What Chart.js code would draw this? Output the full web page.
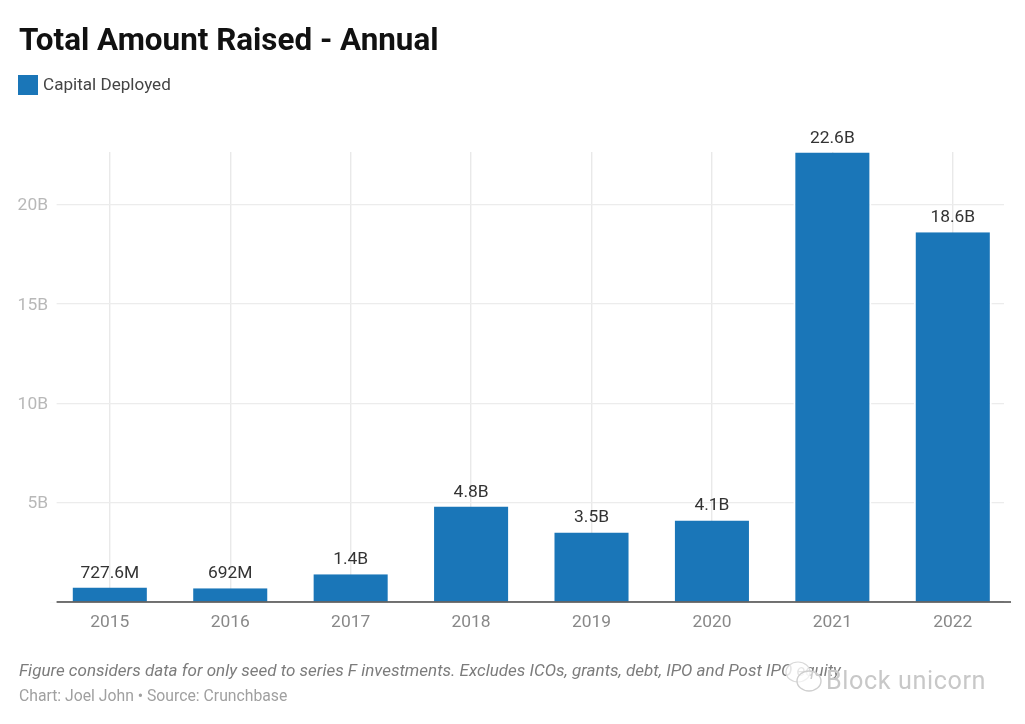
<!DOCTYPE html>
<html>
<head>
<meta charset="utf-8">
<script src="https://cdn.jsdelivr.net/npm/chart.js@4/dist/chart.umd.min.js"></script>
<style>
  html, body { margin: 0; padding: 0; background: #fff; }
  body { position: relative; width: 1025px; height: 724px; overflow: hidden; font-family: Roboto, sans-serif; }
  canvas { position: absolute; left: 0; top: 0; }
  .txt { position: absolute; white-space: nowrap; }
  #title { left: 19px; top: 21px; font-size: 31.4px; line-height: 38px; font-weight: 700; color: #111; }
  #swatch { position: absolute; left: 18px; top: 75px; width: 20px; height: 20px; background: #1a76b8; }
  #legend { left: 43px; top: 74px; font-size: 17.1px; line-height: 21px; color: #444; }
  #note { left: 19px; top: 660px; font-size: 17.03px; line-height: 21px; font-style: italic; color: #7c7c7c; }
  #source { left: 19px; top: 687px; font-size: 15.75px; line-height: 18px; color: #a0a0a0; }
  #mark { left: 826px; top: 666px; font-size: 25.2px; line-height: 30px; color: #c8c8c8; letter-spacing: 0.6px;
    text-shadow: 0 0 1px #fff; }
  #markIcon { position: absolute; left: 784px; top: 660px; }
</style>
</head>
<body>
<canvas id="chart" width="1025" height="724"></canvas>
<div class="txt" id="title">Total Amount Raised - Annual</div>
<div id="swatch"></div>
<div class="txt" id="legend"></div>
<div class="txt" id="note">Figure considers data for only seed to series F investments. Excludes ICOs, grants, debt, IPO and Post IPO equity</div>
<div class="txt" id="source">Chart: Joel John • Source: Crunchbase</div>
<svg id="markIcon" width="42" height="36" viewBox="0 0 42 36">
  <ellipse cx="14" cy="12" rx="12" ry="10" fill="#fff" fill-opacity="0.8" stroke="#dadada" stroke-width="1.2"/>
  <ellipse cx="25" cy="21" rx="12" ry="10" fill="#fff" fill-opacity="0.6" stroke="#cfcfcf" stroke-width="1.4"/>
</svg>
<div class="txt" id="mark">Block unicorn</div>

<script>
const seriesName = 'Capital Deployed';
const years = ['2015', '2016', '2017', '2018', '2019', '2020', '2021', '2022'];
const capital = [0.7276, 0.692, 1.4, 4.8, 3.5, 4.1, 22.6, 18.6];
const valueLabels = ['727.6M', '692M', '1.4B', '4.8B', '3.5B', '4.1B', '22.6B', '18.6B'];
const yTicks = [0, 5, 10, 15, 20];

const BAR_BLUE = '#1a76b8';

document.getElementById('legend').textContent = seriesName;

// grid runs a bit short of the plot edges, baseline sits on top of the bars
const framePlugin = {
  id: 'frame',
  beforeDatasetsDraw(chart) {
    const { ctx, chartArea, scales } = chart;
    ctx.save();
    ctx.fillStyle = '#fff';
    ctx.fillRect(chartArea.left, chartArea.top - 1, 7, chartArea.height + 1);
    ctx.fillRect(chartArea.right - 9, chartArea.top - 1, 9, chartArea.height + 1);

    // y labels sit slightly under their gridline in the original
    ctx.fillStyle = '#b8b8b8';
    ctx.font = '17.4px Roboto';
    ctx.textAlign = 'right';
    ctx.textBaseline = 'middle';
    scales.y.ticks.forEach(t => {
      if (t.value !== 0) ctx.fillText(t.value + 'B', 48, scales.y.getPixelForValue(t.value) + 1.5);
    });
    ctx.restore();
  },
  afterDatasetsDraw(chart) {
    const { ctx, chartArea, scales } = chart;
    const y0 = scales.y.getPixelForValue(0);
    ctx.save();
    ctx.strokeStyle = 'rgba(40, 40, 40, 0.85)';
    ctx.lineWidth = 1.6;
    ctx.beginPath();
    ctx.moveTo(chartArea.left + 7, y0);
    ctx.lineTo(chartArea.right - 2, y0);
    ctx.stroke();

    // value labels over each bar
    ctx.fillStyle = '#333';
    ctx.font = '17.4px Roboto';
    ctx.textAlign = 'center';
    ctx.textBaseline = 'alphabetic';
    chart.getDatasetMeta(0).data.forEach((bar, i) => {
      ctx.fillText(valueLabels[i], bar.x, bar.y - 10);
    });
    ctx.restore();
  }
};

new Chart(document.getElementById('chart'), {
  type: 'bar',
  plugins: [framePlugin],
  data: {
    labels: years,
    datasets: [{
      label: seriesName,
      data: capital,
      backgroundColor: BAR_BLUE,
      borderColor: '#fff',
      borderWidth: { left: 2, right: 2, top: 0, bottom: 0 },
      barPercentage: 0.648,
      categoryPercentage: 1
    }]
  },
  options: {
    responsive: false,
    animation: false,
    devicePixelRatio: 1,
    layout: { padding: { top: 152, right: 12, left: 0, bottom: 0 } },
    plugins: { legend: { display: false }, tooltip: { enabled: false } },
    scales: {
      x: {
        afterFit(scale) { scale.height = 122; },
        grid: { offset: false, color: '#e9e9e9', lineWidth: 1.4, drawTicks: false },
        border: { display: false },
        ticks: { color: '#888', font: { family: 'Roboto', size: 17.4 }, padding: 10, maxRotation: 0 }
      },
      y: {
        min: 0,
        max: 22.63,
        afterFit(scale) { scale.width = 49.6; },
        afterBuildTicks(scale) { scale.ticks = yTicks.map(v => ({ value: v })); },
        grid: { color: '#ececec', lineWidth: 1.2, drawTicks: false },
        border: { display: false },
        ticks: { display: false }
      }
    }
  }
});
</script>
</body>
</html>
